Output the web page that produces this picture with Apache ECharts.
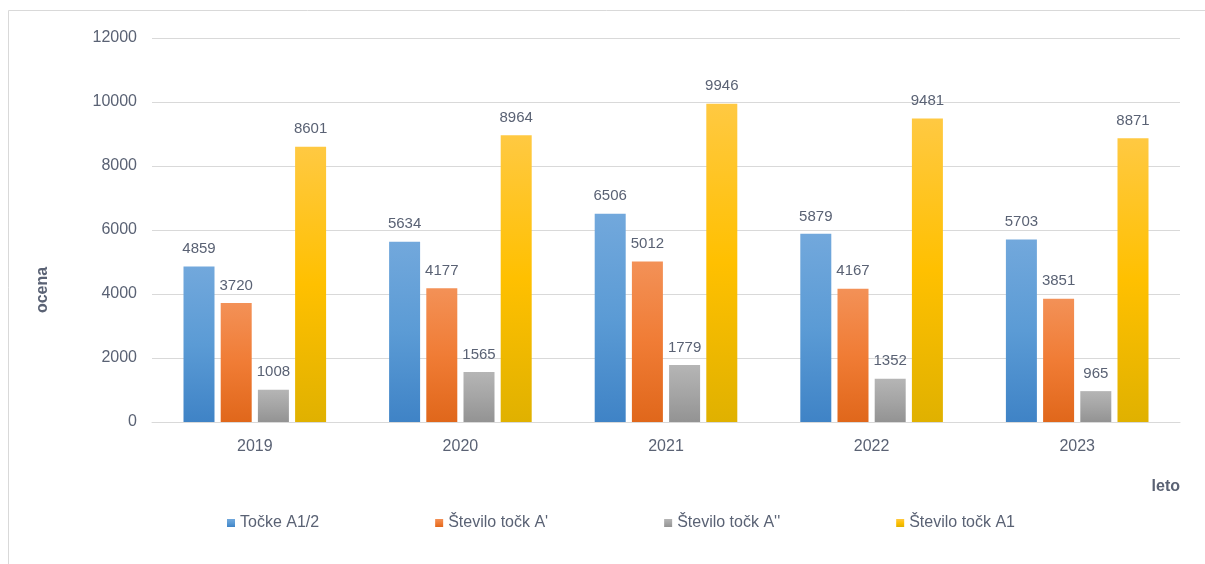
<!DOCTYPE html>
<html><head><meta charset="utf-8">
<script src="https://cdn.jsdelivr.net/npm/echarts@6/dist/echarts.min.js"></script>
<style>html,body{margin:0;padding:0;background:#fff}#c{width:1205px;height:564px}</style>
</head><body><div id="c"></div>
<script>
const categories = ['2019','2020','2021','2022','2023'];
const seriesNames = ['Točke A1/2', 'Število točk A\'', 'Število točk A\'\'', 'Število točk A1'];
const tockeA12 = [4859, 5634, 6506, 5879, 5703];
const steviloA1crtica = [3720, 4177, 5012, 4167, 3851];
const steviloA2crtici = [1008, 1565, 1779, 1352, 965];
const steviloA1 = [8601, 8964, 9946, 9481, 8871];
const yTicks = [0, 2000, 4000, 6000, 8000, 10000, 12000];

const values = [tockeA12, steviloA1crtica, steviloA2crtici, steviloA1];
const gradients = [
  ['#72a8dc', '#5b9bd5', '#3f83c6'],
  ['#f39157', '#f07c35', '#e0671b'],
  ['#b5b5b5', '#a5a5a5', '#939393'],
  ['#ffc942', '#ffc000', '#e0b100']
];
const legendColors = ['#5b9bd5', '#ed7d31', '#a5a5a5', '#ffc000'];
const textColor = '#5a6274';
const font = '"Liberation Sans", "DejaVu Sans", sans-serif';

const chart = echarts.init(document.getElementById('c'));
chart.setOption({
  animation: false,
  color: legendColors,
  textStyle: { fontFamily: font },
  graphic: [{
    type: 'polyline', silent: true,
    shape: { points: [[8.5, 564], [8.5, 10.5], [1205, 10.5]] },
    style: { stroke: '#d9d9d9', fill: null, lineWidth: 1 }
  }],
  grid: { left: 152, right: 25, top: 38, bottom: 142, containLabel: false },
  legend: {
    left: 222, top: 510,
    itemWidth: 8, itemHeight: 8, itemGap: 116,
    icon: 'rect',
    textStyle: { color: textColor, fontSize: 16, fontFamily: font },
    data: seriesNames
  },
  xAxis: {
    type: 'category', data: categories,
    name: 'leto', nameLocation: 'end', nameGap: 0,
    nameTextStyle: { color: textColor, fontSize: 16, fontWeight: 'bold', align: 'right', verticalAlign: 'top', padding: [57, 0, 0, 0], fontFamily: font },
    axisLine: { lineStyle: { color: '#d9d9d9' } },
    axisTick: { show: false },
    axisLabel: { color: textColor, fontSize: 16, margin: 17, fontFamily: font }
  },
  yAxis: {
    type: 'value', min: 0, max: 12000, interval: 2000,
    name: 'ocena', nameLocation: 'middle', nameRotate: 90, nameGap: 101,
    nameTextStyle: { color: textColor, fontSize: 16, fontWeight: 'bold', padding: [0, 120, 0, 0], fontFamily: font },
    axisLine: { show: false }, axisTick: { show: false },
    axisLabel: { color: textColor, fontSize: 16, margin: 15, fontFamily: font,
      formatter: v => yTicks.includes(v) ? String(v) : '' },
    splitLine: { lineStyle: { color: '#d9d9d9' } }
  },
  series: values.map((vals, i) => ({
    name: seriesNames[i], type: 'bar', data: vals,
    barWidth: 31, barGap: '20%',
    itemStyle: {
      color: { type: 'linear', x: 0, y: 0, x2: 0, y2: 1,
        colorStops: [
          { offset: 0, color: gradients[i][0] },
          { offset: 0.5, color: gradients[i][1] },
          { offset: 1, color: gradients[i][2] }
        ] }
    },
    label: { show: true, position: 'top', distance: 10, color: textColor, fontSize: 15, fontFamily: font }
  }))
});
</script></body></html>
